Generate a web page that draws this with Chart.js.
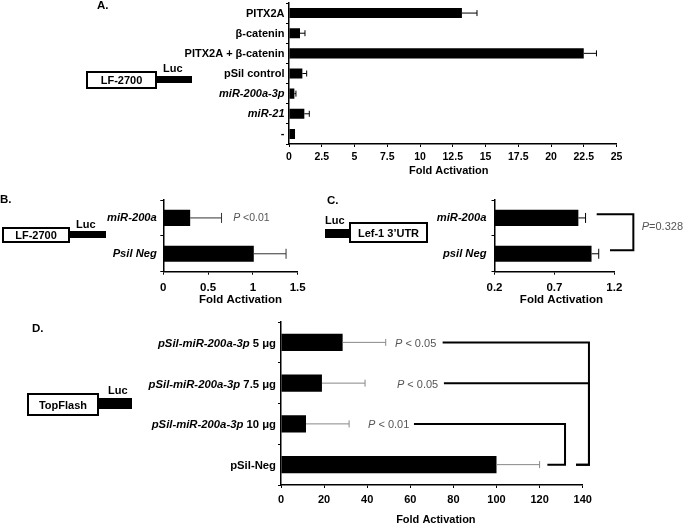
<!DOCTYPE html>
<html><head><meta charset="utf-8">
<script src="https://cdn.jsdelivr.net/npm/chart.js@4.4.1/dist/chart.umd.min.js"></script>
<style>
html,body{margin:0;padding:0;background:#fff;}
#wrap{position:relative;width:683px;height:525px;overflow:hidden;font-family:"Liberation Sans",Arial,Helvetica,sans-serif;}
canvas{position:absolute;left:0;top:0;}
.t{position:absolute;font-weight:bold;color:#000;white-space:nowrap;line-height:1;}
.box{position:absolute;border:2px solid #000;background:#fff;box-sizing:border-box;font-weight:bold;font-size:11px;display:flex;align-items:center;justify-content:center;white-space:nowrap;}
.luc{position:absolute;background:#000;}
</style></head>
<body><div id="wrap">
<canvas id="cA" width="683" height="525"></canvas>
<canvas id="cB" width="683" height="525"></canvas>
<canvas id="cC" width="683" height="525"></canvas>
<canvas id="cD" width="683" height="525"></canvas>

<div class="t" style="left:97px;top:0px;font-size:11.5px;">A.</div>
<div class="t" style="left:163px;top:62.5px;font-size:11px;">Luc</div>
<div class="box" style="left:86px;top:71px;width:71px;height:18px;">LF-2700</div>
<div class="luc" style="left:157px;top:76px;width:35px;height:7px;"></div>

<div class="t" style="left:0px;top:194px;font-size:11.5px;">B.</div>
<div class="t" style="left:76px;top:219px;font-size:11px;">Luc</div>
<div class="box" style="left:2px;top:227px;width:68px;height:15.5px;">LF-2700</div>
<div class="luc" style="left:70px;top:231px;width:36px;height:7px;"></div>

<div class="t" style="left:327px;top:194.5px;font-size:11.5px;">C.</div>
<div class="t" style="left:325px;top:215px;font-size:11px;">Luc</div>
<div class="luc" style="left:325px;top:228.5px;width:25px;height:9px;"></div>
<div class="box" style="left:349px;top:222px;width:79px;height:21px;">Lef-1 3’UTR</div>

<div class="t" style="left:32px;top:323px;font-size:11.5px;">D.</div>
<div class="t" style="left:108px;top:384.5px;font-size:11px;">Luc</div>
<div class="box" style="left:27px;top:393px;width:72px;height:23px;">TopFlash</div>
<div class="luc" style="left:99px;top:398px;width:33px;height:11px;"></div>
</div>
<script>
// ---------- data ----------
const catsA = ['PITX2A', 'β-catenin', 'PITX2A + β-catenin', 'pSil control', 'miR-200a-3p', 'miR-21', '-'];
const italicA = ['', '', '', '', 'miR-200a-3p', 'miR-21', ''];
const valsA = [13.2, 0.84, 22.5, 1.02, 0.41, 1.17, 0.46];
const errA = [1.15, 0.38, 0.97, 0.33, 0.12, 0.38, 0];
const ticksA = [0, 2.5, 5, 7.5, 10, 12.5, 15, 17.5, 20, 22.5, 25];
const tickLabelsA = ['0', '2.5', '5', '7.5', '10', '12.5', '15', '17.5', '20', '22.5', '25'];

const catsB = ['miR-200a', 'Psil Neg'];
const italicB = ['miR-200a', 'Psil Neg'];
const valsB = [0.3, 1.01];
const errB = [0.35, 0.36];
const ticksB = [0, 0.5, 1, 1.5];
const tickLabelsB = ['0', '0.5', '1', '1.5'];
const pTextB = ['P <0.01'];

const catsC = ['miR-200a', 'psil Neg'];
const italicC = ['miR-200a', 'psil Neg'];
const valsC = [0.9, 1.01];
const errC = [0.06, 0.06];
const ticksC = [0.2, 0.7, 1.2];
const tickLabelsC = ['0.2', '0.7', '1.2'];
const pTextC = ['P=0.328'];

const catsD = ['pSil-miR-200a-3p 5 μg', 'pSil-miR-200a-3p 7.5 μg', 'pSil-miR-200a-3p 10 μg', 'pSil-Neg'];
const italicD = ['pSil-miR-200a-3p', 'pSil-miR-200a-3p', 'pSil-miR-200a-3p', ''];
const valsD = [28.6, 19.0, 11.6, 100];
const errD = [20, 20, 20, 20];
const ticksD = [0, 20, 40, 60, 80, 100, 120, 140];
const tickLabelsD = ['0', '20', '40', '60', '80', '100', '120', '140'];
const pTextD = ['P < 0.05', 'P < 0.05', 'P < 0.01'];

const axisTitle = 'Fold Activation';

// ---------- drawing ----------
const FONT = '"Liberation Sans", Arial, Helvetica, sans-serif';
Chart.defaults.font.family = FONT;

const deco = {
  id: 'deco',
  afterDraw(chart, args, o) {
    const ctx = chart.ctx, ca = chart.chartArea;
    const xs = chart.scales.x, ys = chart.scales.y;
    const meta = chart.getDatasetMeta(0);
    const vals = chart.data.datasets[0].data;
    ctx.save();
    // error bars
    ctx.strokeStyle = o.errColor; ctx.lineWidth = o.errWidth;
    vals.forEach((v, i) => {
      const e = o.err[i];
      if (!e) return;
      const yc = meta.data[i].y;
      const x0 = xs.getPixelForValue(v), x1 = xs.getPixelForValue(v + e);
      ctx.beginPath();
      ctx.moveTo(x0, yc); ctx.lineTo(x1, yc);
      ctx.moveTo(x1, yc - o.cap); ctx.lineTo(x1, yc + o.cap);
      ctx.stroke();
    });
    // category labels (mixed italic)
    ctx.fillStyle = '#000'; ctx.textBaseline = 'middle'; ctx.textAlign = 'right';
    const nf = 'bold ' + o.labelSize + 'px ' + FONT, itf = 'italic bold ' + o.labelSize + 'px ' + FONT;
    chart.data.labels.forEach((lab, i) => {
      const it = o.italic[i] || '';
      const rest = lab.slice(it.length);
      const yc = ys.getPixelForValue(i) + o.labelDy;
      let xr = ca.left - o.labelGap;
      if (rest) { ctx.font = nf; ctx.fillText(rest, xr, yc); xr -= ctx.measureText(rest).width; }
      if (it) { ctx.font = itf; ctx.fillText(it, xr, yc); }
    });
    // axis title
    ctx.font = 'bold ' + o.titleSize + 'px ' + FONT;
    ctx.textAlign = 'center';
    ctx.fillText(o.title, (ca.left + ca.right) / 2 + o.titleDx, o.titleY);
    // brackets
    ctx.strokeStyle = '#000'; ctx.lineWidth = o.bracketWidth; ctx.lineJoin = 'miter';
    o.brackets.forEach(b => {
      const y0 = ys.getPixelForValue(b.y0), y1 = ys.getPixelForValue(b.y1), xb = xs.getPixelForValue(b.x);
      ctx.beginPath();
      ctx.moveTo(xs.getPixelForValue(b.s0), y0); ctx.lineTo(xb, y0); ctx.lineTo(xb, y1);
      ctx.lineTo(xs.getPixelForValue(b.s1), y1);
      ctx.stroke();
    });
    // p-value notes
    ctx.fillStyle = '#555'; ctx.textAlign = 'left';
    o.notes.forEach(n => {
      let x = xs.getPixelForValue(n.x);
      const y = ys.getPixelForValue(n.y) + o.noteDy;
      ctx.font = 'italic ' + o.noteSize + 'px ' + FONT;
      ctx.fillText(n.text.charAt(0), x, y);
      x += ctx.measureText(n.text.charAt(0)).width;
      ctx.font = o.noteSize + 'px ' + FONT;
      ctx.fillText(n.text.slice(1), x, y);
    });
    ctx.restore();
  }
};

function makeChart(id, p) {
  return new Chart(document.getElementById(id), {
    type: 'bar',
    data: {
      labels: p.cats,
      datasets: [{ data: p.vals, backgroundColor: '#000', borderWidth: 0,
        barPercentage: p.barPct, categoryPercentage: 1 }]
    },
    options: {
      indexAxis: 'y', responsive: false, animation: false, devicePixelRatio: 1,
      layout: { padding: { left: p.area[0], top: p.area[1], right: 683 - p.area[2], bottom: 525 - p.area[3] - 40 } },
      plugins: {
        legend: { display: false }, tooltip: { enabled: false },
        deco: Object.assign({ brackets: [], notes: [], labelDy: 0, noteDy: 0, bracketWidth: 2 }, p.deco)
      },
      scales: {
        x: {
          type: 'linear', min: p.ticks[0], max: p.ticks[p.ticks.length - 1],
          afterBuildTicks: s => { s.ticks = p.ticks.map(v => ({ value: v })); },
          afterFit: s => { s.height = 40; },
          grid: { display: true, drawOnChartArea: false, drawTicks: true, tickLength: 3, color: '#000', lineWidth: 1 },
          border: { display: true, color: '#000', width: 1.5 },
          ticks: { callback: (v, i) => p.tickLabels[i], color: '#000', autoSkip: false, maxRotation: 0,
            font: { family: FONT, size: p.tickSize, weight: 'bold' }, padding: p.tickPad }
        },
        y: {
          type: 'category',
          afterFit: s => { s.width = 0; },
          grid: { display: true, drawOnChartArea: false, drawTicks: true, tickLength: 3, color: '#000', offset: true },
          border: { display: true, color: '#000', width: 1.5 },
          ticks: { display: false }
        }
      }
    },
    plugins: [deco]
  });
}

makeChart('cA', {
  cats: catsA, vals: valsA, ticks: ticksA, tickLabels: tickLabelsA,
  area: [289, 3, 616.5, 144], barPct: 0.5, tickSize: 10.5, tickPad: 3.5,
  deco: { err: errA, errColor: '#000', errWidth: 1, cap: 3, italic: italicA, labelSize: 11, labelGap: 4.5, labelDy: 0.5,
    title: axisTitle, titleSize: 11, titleDx: -4, titleY: 171 }
});

makeChart('cB', {
  cats: catsB, vals: valsB, ticks: ticksB, tickLabels: tickLabelsB,
  area: [163.3, 200, 297.7, 271.7], barPct: 0.45, tickSize: 11.5, tickPad: 6,
  deco: { err: errB, errColor: '#333', errWidth: 1, cap: 5, italic: italicB, labelSize: 11.2, labelGap: 6.5,
    title: axisTitle, titleSize: 11.5, titleDx: 10, titleY: 300,
    notes: [{ x: 0.78, y: 0, text: pTextB[0] }], noteSize: 10.5 }
});

makeChart('cC', {
  cats: catsC, vals: valsC, ticks: ticksC, tickLabels: tickLabelsC,
  area: [494.5, 200, 614.3, 271.7], barPct: 0.45, tickSize: 11.5, tickPad: 6,
  deco: { err: errC, errColor: '#000', errWidth: 1, cap: 5, italic: italicC, labelSize: 11.2, labelGap: 8,
    title: axisTitle, titleSize: 11.5, titleDx: 7, titleY: 300,
    brackets: [{ y0: -0.1, y1: 0.9, x: 1.359, s0: 1.053, s1: 1.164 }],
    notes: [{ x: 1.429, y: 0.26, text: pTextC[0] }], noteSize: 11 }
});

makeChart('cD', {
  cats: catsD, vals: valsD, ticks: ticksD, tickLabels: tickLabelsD,
  area: [281, 322, 582.7, 485], barPct: 0.42, tickSize: 11, tickPad: 5,
  deco: { err: errD, errColor: '#888', errWidth: 1, cap: 3.5, italic: italicD, labelSize: 11.3, labelGap: 5, labelDy: 1.5,
    title: axisTitle, titleSize: 11, titleDx: 4, titleY: 520,
    brackets: [
      { y0: 0, y1: 3, x: 142.9, s0: 75, s1: 136.9 },
      { y0: 1, y1: 3, x: 142.9, s0: 75.6, s1: 136.9 },
      { y0: 2, y1: 3, x: 131.8, s0: 61.7, s1: 123.6 }
    ],
    notes: [
      { x: 52.9, y: 0, text: pTextD[0] },
      { x: 53.8, y: 1, text: pTextD[1] },
      { x: 40.4, y: 2, text: pTextD[2] }
    ], noteSize: 11, noteDy: 1.5 }
});
</script>
</body></html>
